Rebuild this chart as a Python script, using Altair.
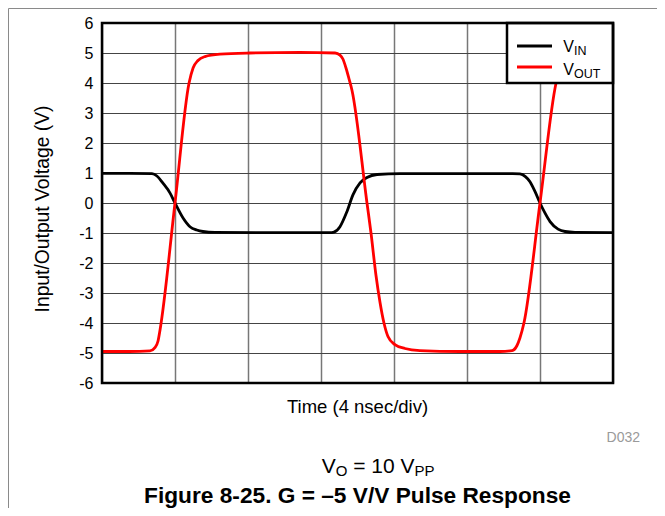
import altair as alt
import pandas as pd

# ---- data (time in ns, 4 ns per division; voltage in V) ----
vin_t = [0.0, 1.5, 2.74, 3.01, 3.34, 3.73, 4.0, 4.45, 4.82, 5.19, 5.53, 6.19, 9.0,
         12.49, 12.71, 13.04, 13.42, 13.75, 14.14, 14.52, 15.07, 16.33, 19.0, 22.5,
         22.9, 23.2, 23.45, 23.73, 24.0, 24.27, 24.55, 24.99, 25.37, 25.92, 28.0]
vin_v = [0.99, 0.99, 0.98, 0.9, 0.66, 0.33, 0.0, -0.51, -0.79, -0.9, -0.95, -0.98, -0.99,
         -0.99, -0.97, -0.79, -0.29, 0.27, 0.67, 0.85, 0.95, 0.98, 0.98, 0.98,
         0.97, 0.88, 0.71, 0.38, 0.0, -0.33, -0.62, -0.87, -0.95, -0.98, -0.99]

vout_t = [0.0, 1.5, 2.63, 2.9, 3.07, 3.18, 4.0, 4.77, 4.99, 5.26, 5.64, 6.47, 8.11, 10.85,
          12.77, 13.04, 13.2, 13.37, 13.53, 13.7, 14.52, 14.74, 15.01, 15.23, 15.45, 15.67,
          16.05, 16.6, 17.42, 19.62, 21.81, 22.47, 22.74, 22.9, 23.12, 24.0, 24.88, 25.1,
          25.42, 25.92, 27.29, 28.0]
vout_v = [-4.95, -4.95, -4.93, -4.82, -4.6, -4.23, 0.0, 4.0, 4.5, 4.75, 4.88, 4.96, 5.0, 5.02,
          5.0, 4.93, 4.8, 4.5, 4.15, 3.75, 0.0, -1.0, -2.4, -3.3, -4.0, -4.45,
          -4.72, -4.85, -4.92, -4.95, -4.95, -4.92, -4.75, -4.5, -4.0, 0.0, 4.0, 4.5,
          4.8, 4.92, 5.0, 5.0]

y_ticks = [-6, -5, -4, -3, -2, -1, 0, 1, 2, 3, 4, 5, 6]
x_grid = [0, 4, 8, 12, 16, 20, 24, 28]

W, H = 511, 360
FONT = "Liberation Sans"

df_in = pd.DataFrame({"t": vin_t, "v": vin_v})
df_out = pd.DataFrame({"t": vout_t, "v": vout_v})
one = pd.DataFrame({"a": [0]})

x_scale = alt.Scale(domain=[0, 28], nice=False, zero=False)
y_scale = alt.Scale(domain=[-6, 6], nice=False, zero=False)

x_axis = alt.Axis(values=x_grid, labels=False, ticks=False, domain=False,
                  title=None, grid=True, gridColor="#777777", gridWidth=1.5)
y_axis = alt.Axis(values=y_ticks, ticks=False, tickSize=0, domain=False,
                  title=None, grid=True, gridColor="#444444", gridWidth=1,
                  labelFontSize=16, labelPadding=9, labelFont=FONT,
                  labelColor="black", labelOverlap=False,
                  labelExpr="toString(datum.value)")


def xe():
    return alt.X("t:Q", scale=x_scale, axis=x_axis)


def ye():
    return alt.Y("v:Q", scale=y_scale, axis=y_axis)


frame = alt.Chart(one).mark_rect(fillOpacity=0, stroke="#8a8a8a", strokeWidth=1).encode(
    x=alt.value(-93.5), x2=alt.value(700), y=alt.value(-14.5), y2=alt.value(600))

line_in = alt.Chart(df_in).mark_line(color="black", strokeWidth=2.8,
                                     interpolate="monotone").encode(x=xe(), y=ye())
line_out = alt.Chart(df_out).mark_line(color="#ff0000", strokeWidth=2.8,
                                       interpolate="monotone").encode(x=xe(), y=ye())

legend_box = alt.Chart(one).mark_rect(fill="white", stroke="black", strokeWidth=2.5).encode(
    x=alt.value(405), x2=alt.value(W), y=alt.value(0), y2=alt.value(60))
leg_in = alt.Chart(one).mark_rule(color="black", strokeWidth=3).encode(
    x=alt.value(415), x2=alt.value(450), y=alt.value(23))
leg_out = alt.Chart(one).mark_rule(color="#ff0000", strokeWidth=3).encode(
    x=alt.value(415), x2=alt.value(450), y=alt.value(44))

border = alt.Chart(one).mark_rect(fillOpacity=0, stroke="black", strokeWidth=2.5).encode(
    x=alt.value(0), x2=alt.value(W), y=alt.value(0), y2=alt.value(H))


def txt(s, x, y, size, bold=False, color="black", align="left", angle=0):
    kw = dict(text=s, fontSize=size, font=FONT, color=color, align=align,
              baseline="alphabetic")
    if bold:
        kw["fontWeight"] = "bold"
    if angle:
        kw["angle"] = angle
    return alt.Chart(one).mark_text(**kw).encode(x=alt.value(x), y=alt.value(y))


texts = [
    txt("V", 461.3, 29, 16),
    txt("IN", 472, 32, 12.5),
    txt("V", 461.3, 52, 16),
    txt("OUT", 472, 55, 12.5),
    txt("Input/Output Voltage (V)", -53, 186, 19.3, angle=270, align="center"),
    txt("Time (4 nsec/div)", 255.5, 390, 18.5, align="center"),
    txt("D032", 538, 419, 14, color="#9a9a9a", align="right"),
    txt("V", 219.7, 449.5, 21),
    txt("O", 233.7, 453, 15),
    txt("= 10 V", 251.2, 449.5, 21),
    txt("PP", 312.5, 453, 15),
    txt("Figure 8-25. G = \u20135 V/V Pulse Response", 255.5, 480, 22.7, bold=True,
        align="center"),
]

chart = alt.layer(frame, line_in, line_out, legend_box, leg_in, leg_out, border,
                  *texts).properties(
    width=W, height=H,
    padding={"left": 94, "top": 15, "right": 44, "bottom": 125},
    autosize=alt.AutoSizeParams(type="none"),
    background="white",
).configure_view(strokeWidth=0)

chart.save("out.html", embed_options={"renderer": "svg", "actions": False})
